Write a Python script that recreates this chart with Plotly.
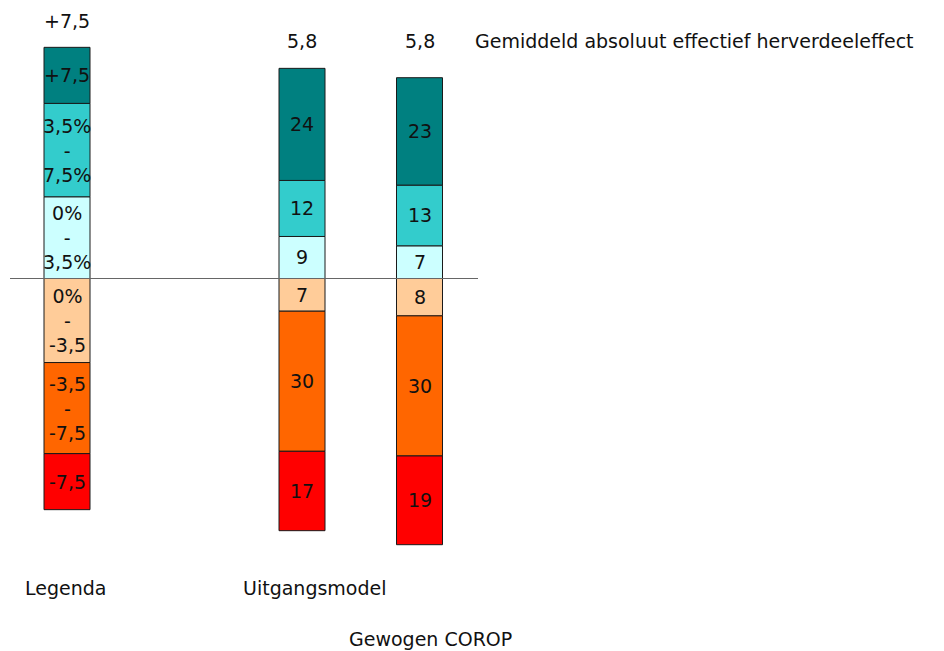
import numpy as np
import plotly.graph_objects as go

# ---- data ----
categories = ["Legenda", "Uitgangsmodel", "Gewogen COROP"]
x_pos = [0, 2, 3]
# positive segments (bottom to top)
pos_0_35 = [17.5, 9, 7]
pos_35_75 = [20, 12, 13]
pos_75 = [12, 24, 23]
# negative segments (top to bottom)
neg_0_35 = [18, 7, 8]
neg_35_75 = [19.5, 30, 30]
neg_75 = [12, 17, 19]
top_labels = ["+7,5", "5,8", "5,8"]
legend_texts = {
    "pos_0_35": "0%<br>-<br>3,5%",
    "pos_35_75": "3,5%<br>-<br>7,5%",
    "pos_75": "+7,5",
    "neg_0_35": "0%<br>-<br>-3,5",
    "neg_35_75": "-3,5<br>-<br>-7,5",
    "neg_75": "-7,5",
}
mean_title = "Gemiddeld absoluut effectief herverdeeleffect"

# ---- styling ----
FONT = "DejaVu Sans"
FS = 19
PX_X = 117.5          # pixels per x unit
PX_Y = 4.67           # pixels per y unit
X0_PX = 67            # page x of category 0
Y0_PX = 278.5         # page y of zero line
PAGE_OFF = 8          # body margin of the html page
W, H = 944, 651
BAR_W = 46 / PX_X

def dx(px):
    return (px - X0_PX) / PX_X

def dy(py):
    return (Y0_PX - py) / PX_Y

series = [
    ("pos_0_35", pos_0_35, "#CCFFFF", 1),
    ("pos_35_75", pos_35_75, "#33CCCC", 1),
    ("pos_75", pos_75, "#008080", 1),
    ("neg_0_35", neg_0_35, "#FFCC99", -1),
    ("neg_35_75", neg_35_75, "#FF6600", -1),
    ("neg_75", neg_75, "#FF0000", -1),
]

fig = go.Figure()
annotations = []
cum_pos = np.zeros(len(x_pos))
cum_neg = np.zeros(len(x_pos))
for key, vals, color, sign in series:
    v = np.array(vals, dtype=float) * sign
    fig.add_trace(go.Bar(
        x=x_pos, y=v, width=BAR_W,
        marker=dict(color=color, line=dict(color="#1a1a1a", width=1)),
        showlegend=False, hoverinfo="skip",
    ))
    if sign > 0:
        mid = cum_pos + v / 2
        cum_pos = cum_pos + v
    else:
        mid = cum_neg + v / 2
        cum_neg = cum_neg + v
    for i, xv in enumerate(x_pos):
        txt = legend_texts[key] if i == 0 else str(vals[i])
        annotations.append(dict(x=xv, y=mid[i], text=txt, showarrow=False,
                                xref="x", yref="y",
                                font=dict(family=FONT, size=FS, color="#111111")))

# labels above the bars
top_y = [dy(21), dy(41), dy(41)]
for i, xv in enumerate(x_pos):
    annotations.append(dict(x=xv, y=top_y[i], text=top_labels[i], showarrow=False,
                            xref="x", yref="y",
                            font=dict(family=FONT, size=FS, color="#111111")))
annotations.append(dict(x=dx(473), y=dy(41), text=mean_title, showarrow=False,
                        xanchor="left", xref="x", yref="y",
                        font=dict(family=FONT, size=FS, color="#111111")))

# category labels (staggered)
cat_xy = [(dx(65.5), dy(588)), (dx(314.5), dy(588)), (dx(430), dy(639))]
for (cx, cy), name in zip(cat_xy, categories):
    annotations.append(dict(x=cx, y=cy, text=name, showarrow=False,
                            xref="x", yref="y",
                            font=dict(family=FONT, size=FS, color="#111111")))

fig.add_shape(type="line", x0=dx(10), x1=dx(478), y0=0, y1=0,
              xref="x", yref="y", line=dict(color="#666666", width=1))

fig.update_layout(
    width=W, height=H,
    barmode="relative",
    margin=dict(l=0, r=0, t=0, b=0),
    paper_bgcolor="white", plot_bgcolor="white",
    xaxis=dict(range=[dx(PAGE_OFF), dx(W + PAGE_OFF)], visible=False, fixedrange=True),
    yaxis=dict(range=[dy(H + PAGE_OFF), dy(PAGE_OFF)], visible=False, fixedrange=True),
    annotations=annotations,
    font=dict(family=FONT, size=FS),
)

fig.write_html("out.html", config={"displayModeBar": False})
